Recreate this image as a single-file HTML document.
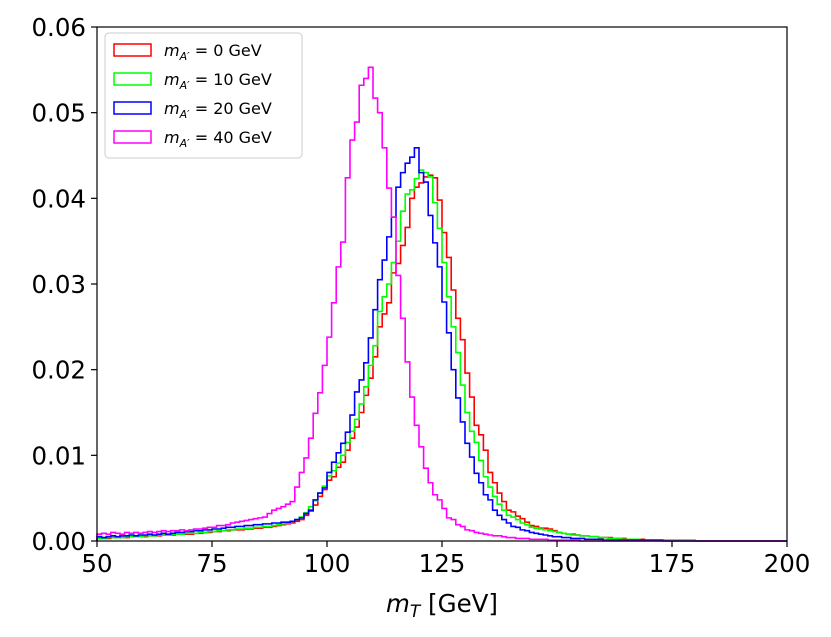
<!DOCTYPE html>
<html><head><meta charset="utf-8"><style>
body{margin:0;background:#fff;}
svg{display:block;font-family:"DejaVu Sans","Liberation Sans",sans-serif;}
</style></head><body>
<svg id="chart" width="831" height="637"></svg>
<script>
const bins0 = 50, binW = 1, nBins = 150;
const xTicks = [50,75,100,125,150,175,200];
const yTicks = ["0.00","0.01","0.02","0.03","0.04","0.05","0.06"];
const seriesLabels = ["0","10","20","40"];
const seriesColors = ["#ff0000","#00ff00","#0000ff","#ff00ff"];
const red = [
.0003,.0003,.0003,.0004,.0004,.0004,.0004,.0005,.0005,.0005,
.0005,.0006,.0006,.0006,.0007,.0007,.0007,.0008,.0008,.0008,
.0008,.0009,.0009,.0010,.0010,.0011,.0011,.0012,.0012,.0013,
.0013,.0013,.0014,.0014,.0015,.0015,.0016,.0016,.0017,.0018,
.0019,.0020,.0021,.0023,.0025,.0030,.0035,.0042,.0052,.0060,
.0071,.0075,.0086,.0092,.0106,.0120,.0133,.0150,.0170,.0190,
.0215,.0250,.0265,.0278,.0313,.0324,.0345,.0366,.0400,.0413,
.0418,.0425,.0427,.0424,.0398,.0360,.0331,.0293,.0260,.0235,
.0196,.0168,.0135,.0124,.0106,.0080,.0068,.0056,.0046,.0036,
.0034,.0029,.0026,.0022,.0018,.0017,.0015,.0015,.0014,.0012,
.0010,.0009,.0008,.0008,.0007,.0006,.0006,.0005,.0005,.0004,
.0004,.0004,.0003,.0003,.0003,.0002,.0002,.0002,.0002,.0001,
.0001,.0001,.0001,.0001,.0001,.0001,.0001,.0001,.0001,.0001,
0,0,0,0,0,0,0,0,0,0, 0,0,0,0,0,0,0,0,0,0];
const green = [
.0003,.0003,.0004,.0004,.0004,.0004,.0005,.0005,.0005,.0005,
.0006,.0006,.0006,.0007,.0007,.0007,.0008,.0008,.0008,.0009,
.0009,.0009,.0010,.0010,.0011,.0011,.0012,.0012,.0013,.0013,
.0014,.0014,.0015,.0015,.0016,.0016,.0017,.0017,.0018,.0019,
.0020,.0021,.0023,.0025,.0028,.0033,.0040,.0047,.0056,.0064,
.0076,.0082,.0091,.0100,.0115,.0128,.0142,.0160,.0180,.0205,
.0228,.0268,.0285,.0300,.0325,.0350,.0385,.0405,.0410,.0423,
.0433,.0430,.0425,.0395,.0365,.0325,.0285,.0250,.0220,.0182,
.0150,.0128,.0115,.0094,.0075,.0063,.0052,.0043,.0036,.0030,
.0028,.0025,.0021,.0019,.0016,.0015,.0014,.0013,.0012,.0011,
.0010,.0009,.0008,.0007,.0007,.0006,.0006,.0005,.0005,.0004,
.0004,.0003,.0003,.0003,.0002,.0002,.0002,.0002,.0001,.0001,
.0001,.0001,.0001,.0001,.0001,.0001,.0001,.0001,.0001,.0001,
0,0,0,0,0,0,0,0,0,0, 0,0,0,0,0,0,0,0,0,0];
const blue = [
.0005,.0004,.0005,.0006,.0005,.0006,.0006,.0007,.0006,.0007,
.0007,.0008,.0007,.0008,.0009,.0008,.0009,.0010,.0010,.0011,
.0011,.0012,.0012,.0013,.0013,.0014,.0014,.0015,.0016,.0016,
.0017,.0017,.0018,.0018,.0019,.0019,.0020,.0020,.0021,.0021,
.0022,.0022,.0023,.0025,.0027,.0032,.0036,.0048,.0056,.0062,
.0080,.0092,.0103,.0114,.0127,.0147,.0174,.0188,.0208,.0237,
.0270,.0305,.0328,.0355,.0378,.0413,.0430,.0441,.0448,.0459,
.0430,.0419,.0380,.0348,.0320,.0279,.0243,.0200,.0167,.0139,
.0114,.0098,.0079,.0068,.0054,.0048,.0036,.0030,.0025,.0021,
.0017,.0016,.0013,.0012,.0010,.0009,.0008,.0007,.0006,.0005,
.0005,.0004,.0004,.0003,.0003,.0003,.0002,.0002,.0002,.0002,
.0001,.0001,.0001,.0001,.0001,.0001,.0001,.0001,.0001,.0001,
.0001,.0001,.0001,0,0,0,0,0,0,0,
0,0,0,0,0,0,0,0,0,0, 0,0,0,0,0,0,0,0,0,0];
const magenta = [
.0008,.0009,.0008,.0010,.0009,.0008,.0010,.0009,.0010,.0009,
.0010,.0011,.0010,.0011,.0012,.0011,.0012,.0012,.0013,.0012,
.0013,.0014,.0014,.0015,.0016,.0016,.0018,.0018,.0019,.0021,
.0022,.0023,.0024,.0025,.0026,.0027,.0028,.0032,.0036,.0038,
.0040,.0043,.0046,.0063,.0080,.0097,.0120,.0149,.0173,.0205,
.0238,.0278,.0320,.0349,.0424,.0468,.0489,.0532,.0540,.0553,
.0517,.0500,.0459,.0412,.0378,.0310,.0260,.0209,.0168,.0135,
.0110,.0085,.0068,.0054,.0048,.0038,.0027,.0025,.0019,.0017,
.0013,.0012,.0010,.0009,.0008,.0007,.0006,.0006,.0005,.0004,
.0004,.0003,.0003,.0003,.0002,.0002,.0002,.0002,.0001,.0001,
.0001,.0001,.0001,.0001,.0001,0,0,0,0,0,
0,0,0,0,0,0,0,0,0,0, 0,0,0,0,0,0,0,0,0,0,
0,0,0,0,0,0,0,0,0,0, 0,0,0,0,0,0,0,0,0,0];
const seriesData = [red, green, blue, magenta];

const NS = "http://www.w3.org/2000/svg";
const svg = document.getElementById('chart');
const L=97, R=787, T=27, B=541;
const xS = v => L + (v-50)/(200-50)*(R-L);
const yS = v => B - v/0.06*(B-T);
function mk(tag, attrs, parent){const e=document.createElementNS(NS,tag);for(const k in attrs)e.setAttribute(k,attrs[k]);(parent||svg).appendChild(e);return e;}

const plot = mk('g',{});



seriesData.forEach((arr,si)=>{
  let d = `M${xS(bins0)},${yS(0)}`;
  arr.forEach((v,i)=>{
    const x0 = xS(bins0+i*binW), x1 = xS(bins0+(i+1)*binW);
    d += ` L${x0},${yS(v)} L${x1},${yS(v)}`;
  });
  d += ` L${xS(bins0+arr.length*binW)},${yS(0)}`;
  const p = mk('path',{d:d,fill:'none',stroke:seriesColors[si],'stroke-width':1.6},plot);
  
  
});

const frame = mk('rect',{x:L,y:T,width:R-L,height:B-T,fill:'none',stroke:'#000','stroke-width':1.2});



xTicks.forEach(t=>{
  const tk = mk('line',{x1:xS(t),x2:xS(t),y1:B,y2:B+6,stroke:'#000','stroke-width':1.2});
  
  
  const tl = mk('text',{x:xS(t),y:B+31,'text-anchor':'middle','font-size':24.5});
  tl.textContent = t;
  
  
});
yTicks.forEach(t=>{
  const v = parseFloat(t);
  const tk = mk('line',{x1:L-6,x2:L,y1:yS(v),y2:yS(v),stroke:'#000','stroke-width':1.2});
  
  
  const tl = mk('text',{x:L-11,y:yS(v)+9,'text-anchor':'end','font-size':24.5});
  tl.textContent = t;
  
  
});

const xt = mk('text',{x:(L+R)/2,y:612,'text-anchor':'middle','font-size':24.5});


xt.innerHTML = '<tspan font-style="italic">m</tspan><tspan font-style="italic" font-size="17" dy="5">T</tspan><tspan dy="-5"> [GeV]</tspan>';

const lg = mk('g',{});


mk('rect',{x:105,y:33,width:197,height:125,rx:4,fill:'#fff',stroke:'#ccc','stroke-width':1},lg);
seriesLabels.forEach((lab,i)=>{
  const y = 50 + i*29;
  const e = mk('g',{},lg);
  
  
  mk('rect',{x:114,y:y-6,width:37,height:12,fill:'none',stroke:seriesColors[i],'stroke-width':1.5},e);
  const t = mk('text',{x:164,y:y+6,'font-size':16},e);
  t.innerHTML = '<tspan font-style="italic">m</tspan><tspan font-style="italic" font-size="11" dy="4">A′</tspan><tspan dy="-4"> = '+lab+' GeV</tspan>';
});
</script>
</body></html>
